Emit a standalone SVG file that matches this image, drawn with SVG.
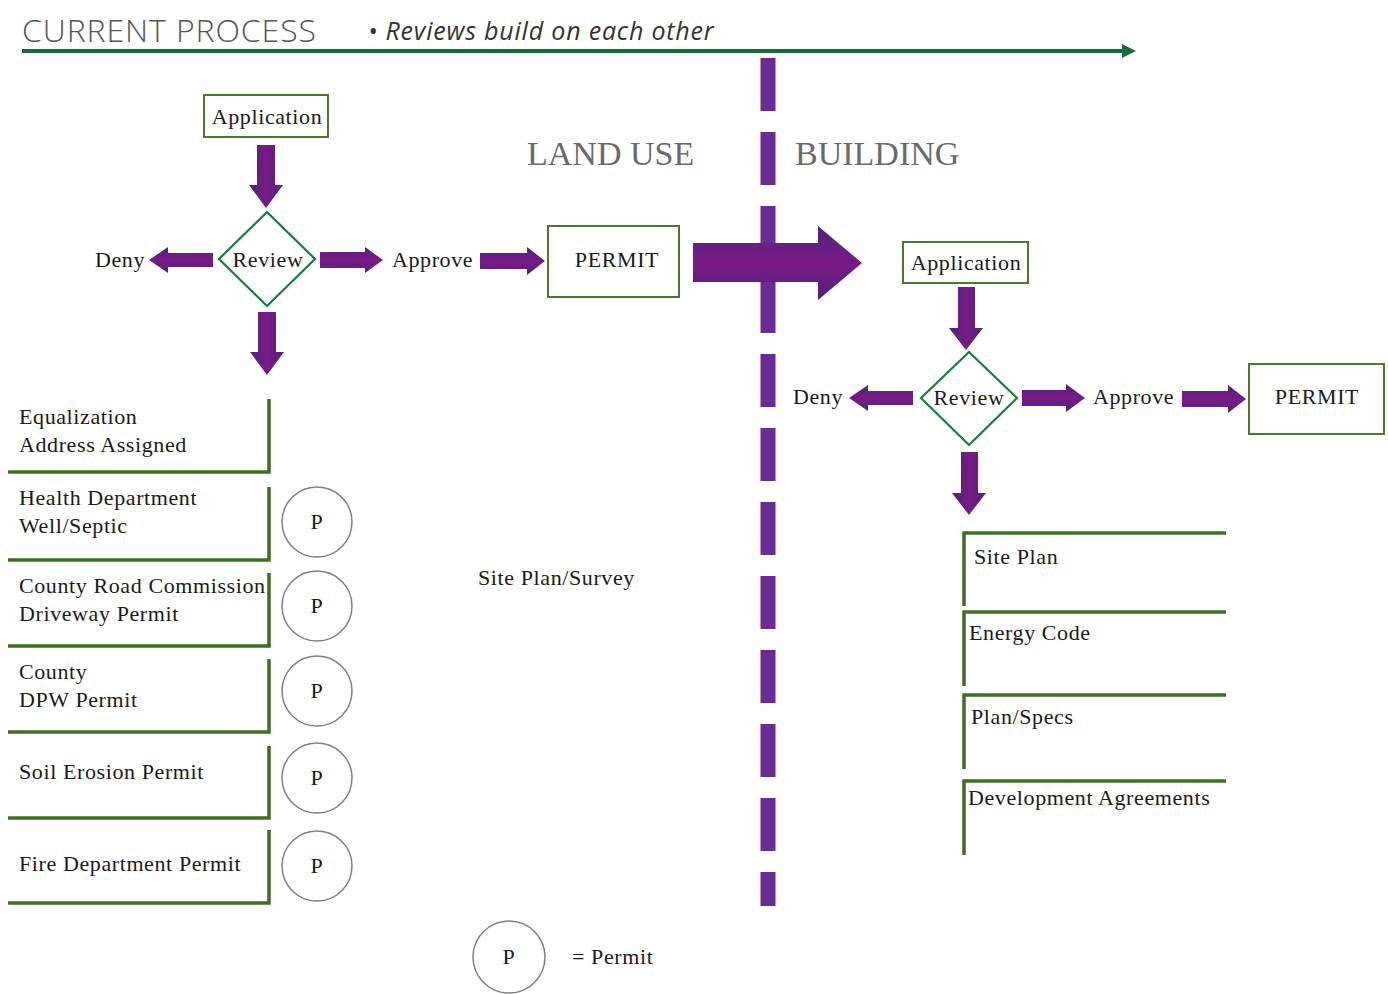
<svg xmlns="http://www.w3.org/2000/svg" width="1388" height="994" viewBox="0 0 1388 994">
<defs>
<linearGradient id="gh" x1="0" y1="0" x2="0" y2="1"><stop offset="0" stop-color="#4f2479"/><stop offset="0.5" stop-color="#7a1a86"/><stop offset="1" stop-color="#4f2479"/></linearGradient>
<linearGradient id="gv" x1="0" y1="0" x2="1" y2="0"><stop offset="0" stop-color="#4f2479"/><stop offset="0.5" stop-color="#7a1a86"/><stop offset="1" stop-color="#4f2479"/></linearGradient>
<filter id="sh" x="-5%" y="-100%" width="110%" height="400%"><feGaussianBlur stdDeviation="2"/></filter>
</defs>
<style>
.t{font-family:"Liberation Serif",serif;font-size:22px;letter-spacing:0.6px;fill:#1a1a1a}
.big{font-family:"Liberation Serif",serif;font-size:34px;fill:#6a6a6a}
.box{fill:#fff;stroke:#4a7a2c;stroke-width:2}
.dia{fill:#fff;stroke:#12803a;stroke-width:2.2}
.br{fill:none;stroke:#3e6e22;stroke-width:3.5}
.c{fill:#fff;stroke:#808080;stroke-width:1.5}
.ah{fill:url(#gh)}
.av{fill:url(#gv)}
</style>
<rect width="1388" height="994" fill="#fff"/>
<g id="title">
<text x="22" y="42" font-family="'Open Sans',sans-serif" font-size="32" font-weight="300" letter-spacing="0.9" fill="#555">CURRENT PROCESS</text>
<text x="368" y="40" font-family="'Open Sans',sans-serif" font-size="25" font-style="italic" letter-spacing="0.8" fill="#333">• Reviews build on each other</text>
</g>
<g id="timeline">
<line x1="22" y1="55" x2="1126" y2="55" stroke="#999" stroke-width="4" filter="url(#sh)"/>
<line x1="22" y1="51" x2="1124" y2="51" stroke="#1b6a38" stroke-width="4"/>
<polygon points="1122,44 1136,51 1122,58" fill="#1b6a38"/>
</g>
<g id="divider">
<line x1="768" y1="58" x2="768" y2="906" stroke="#6a2b95" stroke-width="15" stroke-dasharray="53 21"/>
</g>
<g id="labels">
<text class="big" x="527" y="165">LAND USE</text>
<text class="big" x="795" y="165">BUILDING</text>
</g>
<g id="connectors">
<polygon class="ah" points="693,243 818,243 818,226 862,263 818,300 818,282 693,282"/>
<polygon class="av" points="257,145 275,145 275,185 283,185 266,208 249,185 257,185"/>
<polygon class="ah" points="213,253 168,253 168,247 149,260 168,273 168,267 213,267"/>
<polygon class="ah" points="320,252 365,252 365,247 383,260 365,273 365,268 320,268"/>
<polygon class="ah" points="480,253 527,253 527,247 545,261 527,275 527,269 480,269"/>
<polygon class="av" points="258,312 276,312 276,352 284,352 267,375 250,352 258,352"/>
<polygon class="av" points="958,287 975,287 975,328 983,328 966,350 949,328 958,328"/>
<polygon class="ah" points="913,391 868,391 868,385 849,398 868,411 868,405 913,405"/>
<polygon class="ah" points="1022,390 1066,390 1066,384 1085,398 1066,412 1066,406 1022,406"/>
<polygon class="ah" points="1182,391 1228,391 1228,385 1246,399 1228,413 1228,407 1182,407"/>
<polygon class="av" points="961,452 978,452 978,493 986,493 969,515 952,493 961,493"/>
</g>
<g id="application1"><rect class="box" x="204" y="95" width="124" height="42"/><text class="t" x="267" y="124" text-anchor="middle">Application</text></g>
<g id="review1"><polygon class="dia" points="267,212 315,259 267,306 219,259"/><text class="t" x="268" y="267" text-anchor="middle">Review</text></g>
<g id="deny1"><text class="t" x="95" y="267">Deny</text></g>
<g id="approve1"><text class="t" x="392" y="267">Approve</text></g>
<g id="permit1"><rect class="box" x="548" y="226" width="131" height="71"/><text class="t" x="617" y="267" text-anchor="middle">PERMIT</text></g>
<g id="equalization"><polyline class="br" points="8,472 269,472 269,399"/><text class="t" x="19" y="424">Equalization</text><text class="t" x="19" y="452">Address Assigned</text></g>
<g id="health"><polyline class="br" points="8,560 269,560 269,487"/><text class="t" x="19" y="505">Health Department</text><text class="t" x="19" y="533">Well/Septic</text></g>
<g id="road"><polyline class="br" points="8,646 269,646 269,573"/><text class="t" x="19" y="593">County Road Commission</text><text class="t" x="19" y="621">Driveway Permit</text></g>
<g id="dpw"><polyline class="br" points="8,732 269,732 269,659"/><text class="t" x="19" y="679">County</text><text class="t" x="19" y="707">DPW Permit</text></g>
<g id="soil"><polyline class="br" points="8,818 269,818 269,746"/><text class="t" x="19" y="779">Soil Erosion Permit</text></g>
<g id="fire"><polyline class="br" points="8,903 269,903 269,830"/><text class="t" x="19" y="871">Fire Department Permit</text></g>
<g id="p1"><circle class="c" cx="317" cy="522" r="35"/><text class="t" x="317" y="529" text-anchor="middle">P</text></g>
<g id="p2"><circle class="c" cx="317" cy="606" r="35"/><text class="t" x="317" y="613" text-anchor="middle">P</text></g>
<g id="p3"><circle class="c" cx="317" cy="691" r="35"/><text class="t" x="317" y="698" text-anchor="middle">P</text></g>
<g id="p4"><circle class="c" cx="317" cy="778" r="35"/><text class="t" x="317" y="785" text-anchor="middle">P</text></g>
<g id="p5"><circle class="c" cx="317" cy="866" r="35"/><text class="t" x="317" y="873" text-anchor="middle">P</text></g>
<g id="siteplansurvey"><text class="t" x="478" y="585">Site Plan/Survey</text></g>
<g id="legend"><circle class="c" cx="509" cy="957" r="36"/><text class="t" x="509" y="964" text-anchor="middle">P</text><text class="t" x="572" y="964">= Permit</text></g>
<g id="application2"><rect class="box" x="903" y="242" width="125" height="41"/><text class="t" x="966" y="270" text-anchor="middle">Application</text></g>
<g id="review2"><polygon class="dia" points="969,352 1017,398 969,445 921,398"/><text class="t" x="969" y="405" text-anchor="middle">Review</text></g>
<g id="deny2"><text class="t" x="793" y="404">Deny</text></g>
<g id="approve2"><text class="t" x="1093" y="404">Approve</text></g>
<g id="permit2"><rect class="box" x="1249" y="364" width="135" height="70"/><text class="t" x="1317" y="404" text-anchor="middle">PERMIT</text></g>
<g id="siteplan"><polyline class="br" points="964,606 964,533 1226,533"/><text class="t" x="974" y="564">Site Plan</text></g>
<g id="energy"><polyline class="br" points="964,686 964,612 1226,612"/><text class="t" x="969" y="640">Energy Code</text></g>
<g id="planspecs"><polyline class="br" points="964,769 964,695 1226,695"/><text class="t" x="971" y="724">Plan/Specs</text></g>
<g id="devagree"><polyline class="br" points="964,855 964,781 1226,781"/><text class="t" x="968" y="805">Development Agreements</text></g>
</svg>
